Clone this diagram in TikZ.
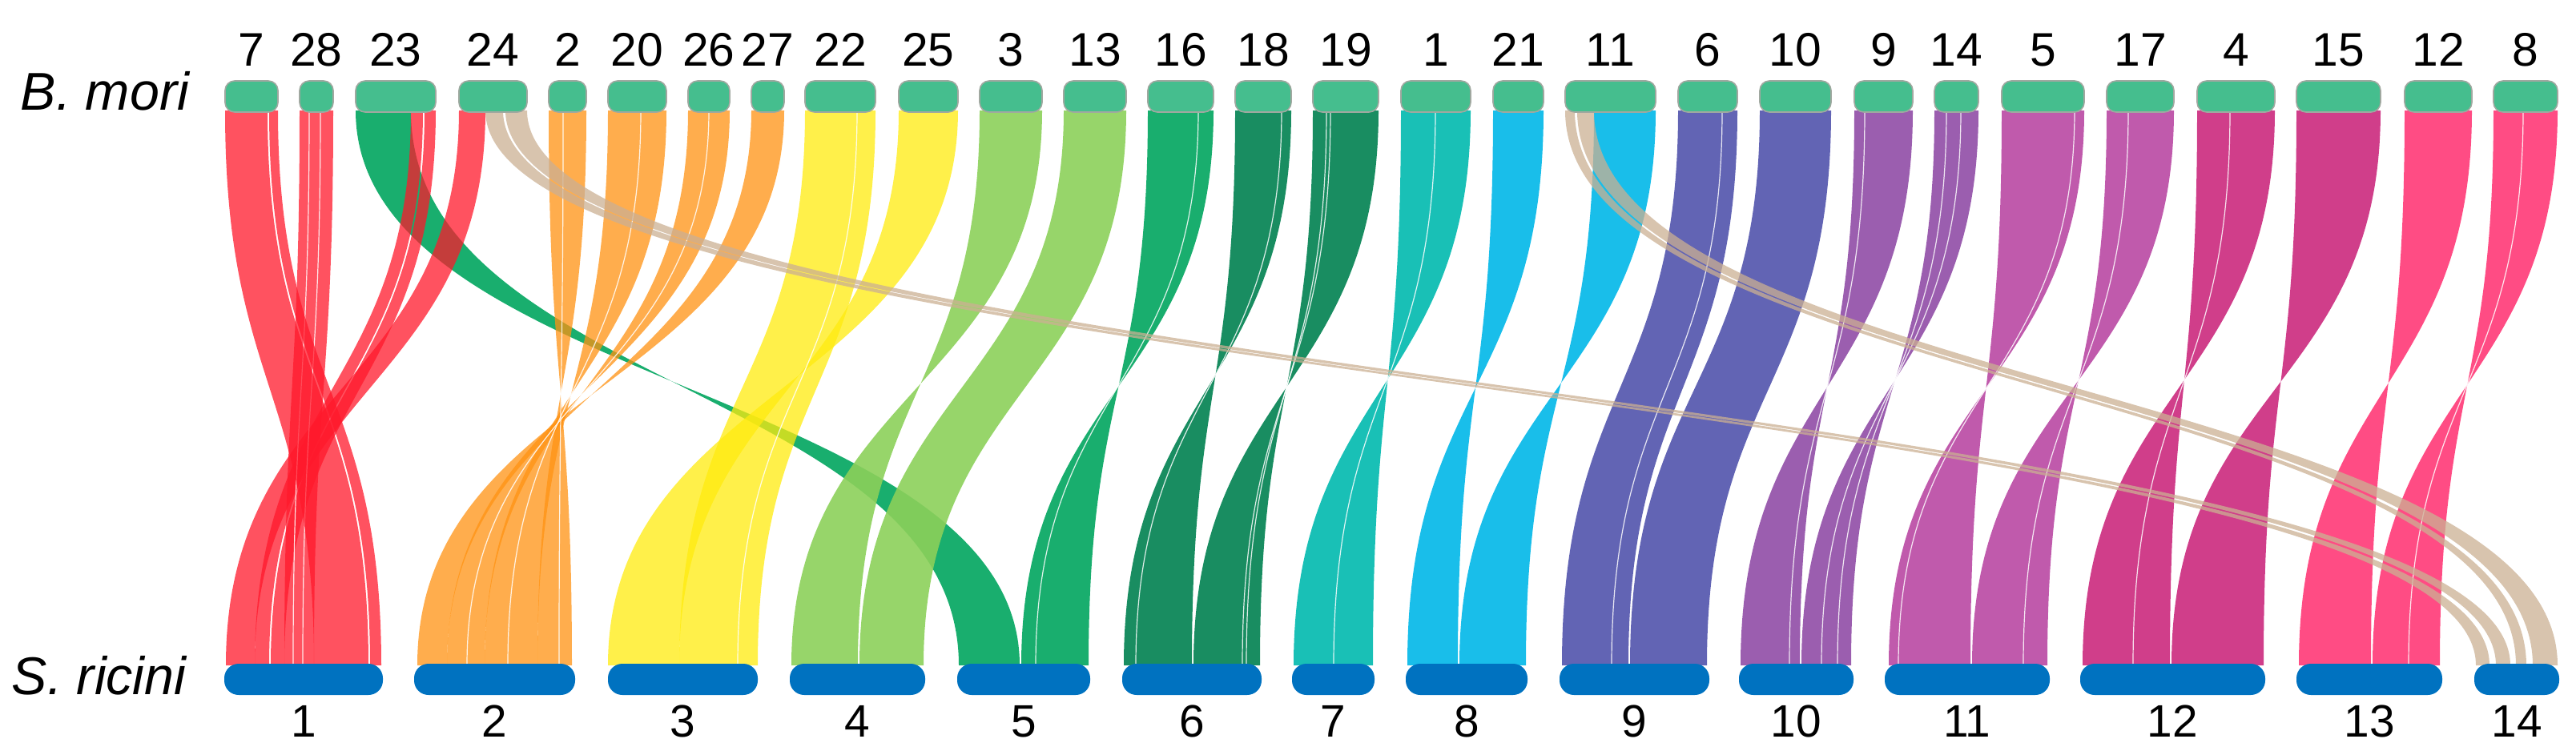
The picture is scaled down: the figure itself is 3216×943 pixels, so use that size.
\documentclass[tikz,border=0pt]{standalone}
\usepackage{fontspec}
\setmainfont{Liberation Sans}
\definecolor{cRed}{RGB}{255,24,43}
\definecolor{cOrange}{RGB}{255,146,18}
\definecolor{cYellow}{RGB}{255,235,14}
\definecolor{cLgreen}{RGB}{140,208,90}
\definecolor{cGreen}{RGB}{0,165,94}
\definecolor{cDgreen}{RGB}{0,129,80}
\definecolor{cTeal}{RGB}{0,185,174}
\definecolor{cCyan}{RGB}{0,183,232}
\definecolor{cPblue}{RGB}{81,83,172}
\definecolor{cPurple}{RGB}{144,77,166}
\definecolor{cMagenta}{RGB}{185,72,163}
\definecolor{cCrimson}{RGB}{203,41,125}
\definecolor{cPink}{RGB}{255,57,119}
\definecolor{cBeige}{RGB}{203,176,147}
\definecolor{cTopbar}{RGB}{69,190,142}
\definecolor{cTopedge}{RGB}{160,168,160}
\definecolor{cBotbar}{RGB}{0,114,192}
% direct ribbon: top [#2,#3] -> bottom [#4,#5]
\newcommand\rib[5]{\fill[#1] (#2,\rya) .. controls (#2,\rym) and (#4,\rym) .. (#4,\ryb) -- (#5,\ryb) .. controls (#5,\rym) and (#3,\rym) .. (#3,\rya) -- cycle;}
% inverted ribbon
\newcommand\ribi[5]{\fill[#1] (#2,\rya) .. controls (#2,\rym) and (#5,\rym) .. (#5,\ryb) -- (#4,\ryb) .. controls (#4,\rym) and (#3,\rym) .. (#3,\rya) -- cycle;}
% white gap line between strands
\newcommand\strand[2]{\draw[gapline] (#1,\rya) .. controls (#1,\rym) and (#2,\rym) .. (#2,\ryb);}
\newcommand\topchr[3]{\draw[topbar] (#1,101) rectangle (#2,140); \node[toplab] (t#3) at ({(#1+#2)/2},82) {#3};}
\newcommand\botchr[3]{\fill[botbar] (#1,829) rectangle (#2,868); \node[botlab] (b#3) at ({(#1+#2)/2},920) {#3};}
\tikzset{
  sRed/.style={fill=cRed, fill opacity=0.75},
  sOrange/.style={fill=cOrange, fill opacity=0.75},
  sYellow/.style={fill=cYellow, fill opacity=0.75},
  sLgreen/.style={fill=cLgreen, fill opacity=0.9},
  sGreen/.style={fill=cGreen, fill opacity=0.9},
  sDgreen/.style={fill=cDgreen, fill opacity=0.9},
  sTeal/.style={fill=cTeal, fill opacity=0.9},
  sCyan/.style={fill=cCyan, fill opacity=0.9},
  sPblue/.style={fill=cPblue, fill opacity=0.9},
  sPurple/.style={fill=cPurple, fill opacity=0.9},
  sMagenta/.style={fill=cMagenta, fill opacity=0.9},
  sCrimson/.style={fill=cCrimson, fill opacity=0.9},
  sPink/.style={fill=cPink, fill opacity=0.9},
  sBeige/.style={fill=cBeige, fill opacity=0.75},
  gapline/.style={draw=white, line width=0.3pt, opacity=0.85},
  topbar/.style={fill=cTopbar, draw=cTopedge, line width=0.4pt, rounded corners=3pt},
  botbar/.style={fill=cBotbar, rounded corners=4.5pt},
  toplab/.style={anchor=base, inner sep=0pt, font=\fontsize{14.7}{16}\selectfont},
  botlab/.style={anchor=base, inner sep=0pt, font=\fontsize{14.2}{16}\selectfont},
  genome/.style={anchor=base west, inner sep=0pt, font=\fontsize{16.6}{18}\selectfont\itshape}
}
\begin{document}
\begin{tikzpicture}[x=0.25pt,y=-0.25pt]
\useasboundingbox (0,0) rectangle (3216,943);
\def\rya{138}\def\ryb{831}\def\rym{484.5}
% ---- ribbons ----
% chr 23 (green part) -> 5
\ribi{sGreen}{444}{513}{1197}{1273}
% -> S. ricini 1
\rib{sRed}{573}{606}{282}{318}
\rib{sRed}{513}{528}{318}{336}
\rib{sRed}{530}{544}{338}{355}
\rib{sRed}{374}{416}{355}{392}
\strand{386}{366}\strand{400}{378}
\rib{sRed}{281}{334}{392}{460}
\rib{sRed}{336}{347}{462}{476}
% -> 2 (inverted block)
\ribi{sOrange}{685}{732}{671}{714}
\ribi{sOrange}{759}{832}{605}{671}
\ribi{sOrange}{859}{911}{558}{605}
\ribi{sOrange}{938}{979}{521}{558}
\strand{703}{698}\strand{800}{634}\strand{885}{583}
% -> 3
\rib{sYellow}{1005}{1093}{848}{946}
\ribi{sYellow}{1122}{1196}{759}{848}
\strand{1070}{921}
% -> 4
\ribi{sLgreen}{1223}{1301}{988}{1071}
\rib{sLgreen}{1328}{1406}{1073}{1153}
% -> 5
\ribi{sGreen}{1433}{1515}{1275}{1359}
\strand{1496}{1293}
% -> 6
\ribi{sDgreen}{1542}{1612}{1403}{1488}
\ribi{sDgreen}{1639}{1721}{1490}{1573}
\strand{1600}{1418}\strand{1656}{1556}\strand{1661}{1551}
% -> 7
\ribi{sTeal}{1749}{1836}{1615}{1714}
\strand{1792}{1665}
% -> 8
\ribi{sCyan}{1864}{1927}{1757}{1820}
\ribi{sCyan}{1990}{2067}{1822}{1905}
% -> 9
\rib{sPblue}{2095}{2169}{1950}{2033}
\rib{sPblue}{2197}{2286}{2035}{2131}
\strand{2150}{2012}
% -> 10
\ribi{sPurple}{2315}{2388}{2173}{2247}
\ribi{sPurple}{2415}{2470}{2249}{2311}
\strand{2328}{2234}\strand{2430}{2294}\strand{2448}{2274}
% -> 11
\ribi{sMagenta}{2499}{2602}{2358}{2460}
\ribi{sMagenta}{2630}{2714}{2462}{2556}
\strand{2590}{2370}\strand{2657}{2526}
% -> 12
\ribi{sCrimson}{2743}{2840}{2600}{2709}
\ribi{sCrimson}{2867}{2972}{2711}{2826}
\strand{2784}{2663}
% -> 13
\ribi{sPink}{3002}{3086}{2870}{2960}
\ribi{sPink}{3113}{3193}{2962}{3046}
\strand{3150}{3007}
% -> 14 (beige, long range)
\rib{sBeige}{606}{628}{3091}{3108}
\rib{sBeige}{631}{658}{3116}{3134}
\rib{sBeige}{1954}{1966}{3141}{3154}
\rib{sBeige}{1969}{1990}{3162}{3193}
% ---- B. mori bars ----
\topchr{281}{347}{7}
\topchr{374}{416}{28}
\topchr{444}{544}{23}
\topchr{573}{658}{24}
\topchr{685}{732}{2}
\topchr{759}{832}{20}
\topchr{859}{911}{26}
\topchr{938}{979}{27}
\topchr{1005}{1093}{22}
\topchr{1122}{1196}{25}
\topchr{1223}{1301}{3}
\topchr{1328}{1406}{13}
\topchr{1433}{1515}{16}
\topchr{1542}{1612}{18}
\topchr{1639}{1721}{19}
\topchr{1749}{1836}{1}
\topchr{1864}{1927}{21}
\topchr{1954}{2067}{11}
\topchr{2095}{2169}{6}
\topchr{2197}{2286}{10}
\topchr{2315}{2388}{9}
\topchr{2415}{2470}{14}
\topchr{2499}{2602}{5}
\topchr{2630}{2714}{17}
\topchr{2743}{2840}{4}
\topchr{2867}{2972}{15}
\topchr{3002}{3086}{12}
\topchr{3113}{3193}{8}
% ---- S. ricini bars ----
\botchr{280}{478}{1}
\botchr{517}{718}{2}
\botchr{759}{946}{3}
\botchr{986}{1155}{4}
\botchr{1195}{1361}{5}
\botchr{1401}{1575}{6}
\botchr{1613}{1716}{7}
\botchr{1755}{1907}{8}
\botchr{1947}{2134}{9}
\botchr{2171}{2314}{10}
\botchr{2353}{2559}{11}
\botchr{2597}{2828}{12}
\botchr{2867}{3049}{13}
\botchr{3089}{3195}{14}
% ---- genome names ----
\node[genome] (bmori) at (25,137) {B. mori};
\node[genome] (sricini) at (14,867) {S. ricini};
\end{tikzpicture}
\end{document}
